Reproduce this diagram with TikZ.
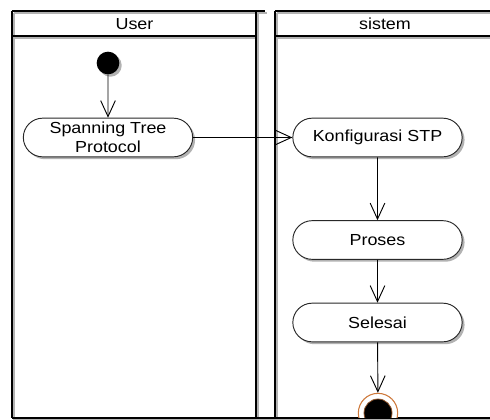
\documentclass[tikz,border=0pt]{standalone}
\usepackage{fontspec}
\setmainfont{Liberation Sans}[FakeStretch=1.12]
\usetikzlibrary{arrows.meta,shapes.misc,shadows}

\definecolor{ringorange}{RGB}{206,120,58}
\definecolor{edgegray}{RGB}{40,40,40}

\tikzset{
  act/.style={rounded rectangle, draw=edgegray, line width=0.7pt, fill=white,
    minimum width=127pt, minimum height=29pt, inner sep=0pt, align=center,
    font=\fontsize{12}{14.2}\selectfont,
    drop shadow={shadow xshift=1.8pt, shadow yshift=-1.8pt, opacity=0.3, fill=black}},
  startdot/.style={circle, fill=black, minimum size=17pt, inner sep=0pt,
    drop shadow={shadow xshift=1.8pt, shadow yshift=-1.8pt, opacity=0.3, fill=black}},
  flow/.style={line width=0.7pt, -{Straight Barb[length=12pt, width=11pt, line width=0.7pt]}},
  lanetitle/.style={font=\fontsize{12}{13.5}\selectfont, inner sep=0pt},
}

% swimlane frame: left lane, right lane, header bars and common bottom edge
\def\laneFrame{%
  \draw (12,11) -- (265,11);
  \draw (12,11) -- (12,418);
  \draw (256,11) -- (256,418);
  \draw (12,36) -- (256,36);
  \draw (275,11) -- (495,11);
  \draw (275,11) -- (275,418);
  \draw (275,36) -- (495,36);
  \draw (12,418) -- (495,418);
}

\begin{document}
\begin{tikzpicture}[x=0.75pt, y=-0.75pt]
  \useasboundingbox (0,0) rectangle (490,419);

  % frame shadow, then frame
  \begin{scope}[shift={(1.5,1.5)}, draw=black!30, line width=1.5pt]
    \laneFrame
  \end{scope}
  \begin{scope}[draw=black, line width=1.5pt]
    \laneFrame
  \end{scope}

  \node[lanetitle] (user) at (134.5,24) {User};
  \node[lanetitle] (sys) at (385,24) {sistem};

  % activities
  \node[startdot] (start) at (108,63) {};
  \node[act] (stp) at (108,137.5) {Spanning Tree\\Protocol};
  \node[act] (konf) at (377.5,137.5) {Konfigurasi STP};
  \node[act] (proses) at (377.5,240) {Proses};
  \node[act] (selesai) at (377.5,322.5) {Selesai};

  % final node, cut by the bottom edge of the lane
  \begin{scope}
    \clip (260,0) rectangle (495,417);
    \node[circle, draw=ringorange, line width=0.8pt, fill=white,
      minimum size=29.5pt, inner sep=0pt] (final) at (378,413) {};
    \fill[black, draw=ringorange!70!black, line width=0.6pt] (final.center) circle (10.5pt);
  \end{scope}

  % control flow
  \draw[flow] (start) -- (stp);
  \draw[flow] (stp) -- (konf);
  \draw[flow] (konf) -- (proses);
  \draw[flow] (proses) -- (selesai);
  \draw[flow] (selesai) -- (final);
\end{tikzpicture}
\end{document}
